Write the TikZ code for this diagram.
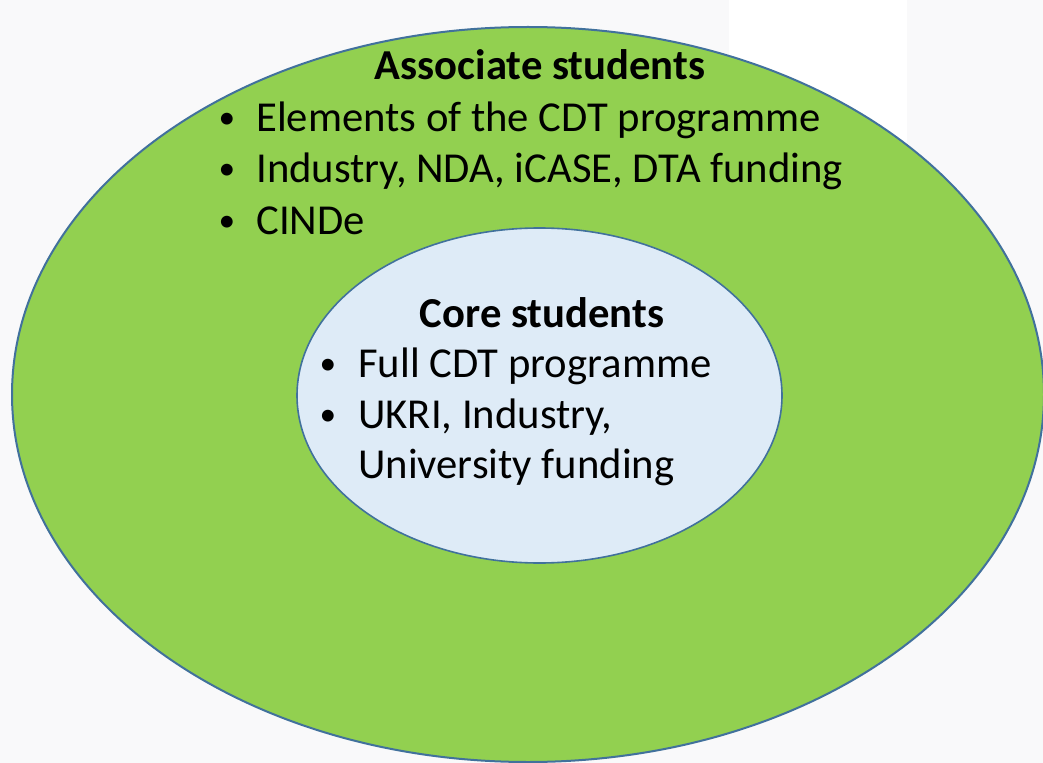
\documentclass[tikz,border=0pt]{standalone}
\usepackage{fontspec}
\setmainfont{Carlito}
\usetikzlibrary{shapes.geometric}
\definecolor{bgc}{HTML}{F9F9FA}
\definecolor{greenf}{HTML}{92D050}
\definecolor{bluef}{HTML}{DEEBF7}
\definecolor{edgec}{HTML}{41719C}
\tikzset{
  ring/.style={ellipse, draw=edgec, line width=1.5pt, inner sep=0pt},
  txt/.style={inner sep=0pt, font=\fontsize{32}{39}\selectfont, text=black},
  head/.style={txt, font=\fontsize{32}{39}\selectfont\bfseries, anchor=base},
  item/.style={txt, anchor=base west},
  bul/.style={inner sep=0pt, font=\fontsize{25}{30}\selectfont, text=black, anchor=base}
}
\begin{document}
\begin{tikzpicture}[x=0.75pt,y=-0.75pt]
\fill[bgc] (0,0) rectangle (1043,763);
\useasboundingbox (0,0) rectangle (1043,763);
\fill[white] (729,0) rectangle (907,300);
\node[ring, fill=greenf, minimum width=774pt, minimum height=551.25pt] (outer) at (528,394.5) {};
\node[ring, fill=bluef, line width=1.2pt, minimum width=363.75pt, minimum height=251.25pt] (inner) at (539.5,395.5) {};
% outer text
\node[head] (ahead) at (540,80) {Associate students};
\node[bul] (ab1) at (227,129) {•};
\node[item] (a1) at (256,132) {Elements of the CDT programme};
\node[bul] (ab2) at (227,180) {•};
\node[item] (a2) at (256,183) {Industry, NDA, iCASE, DTA funding};
\node[bul] (ab3) at (227,232) {•};
\node[item] (a3) at (256,235) {CINDe};
% inner text
\node[head] (chead) at (542,327) {Core students};
\node[bul] (cb1) at (328,374) {•};
\node[item] (c1) at (358,377) {Full CDT programme};
\node[bul] (cb2) at (328,425) {•};
\node[item] (c2) at (358,428) {UKRI, Industry,};
\node[item] (c3) at (358,478) {University funding};
\end{tikzpicture}
\end{document}
